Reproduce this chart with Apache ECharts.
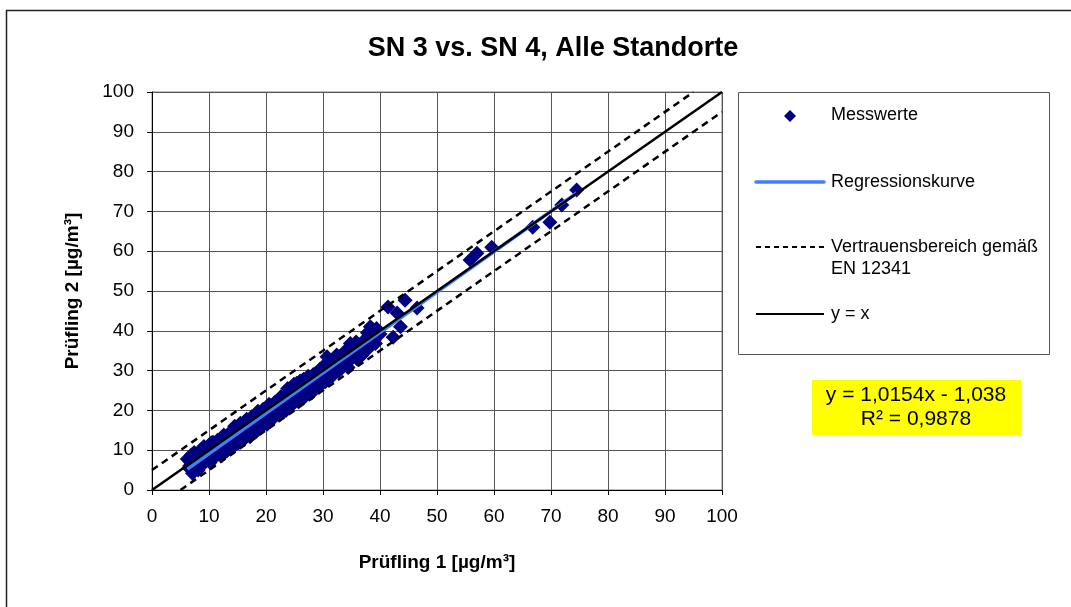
<!DOCTYPE html>
<html>
<head>
<meta charset="utf-8">
<script src="https://cdn.jsdelivr.net/npm/echarts@6/dist/echarts.min.js"></script>
<style>
html,body{margin:0;padding:0;background:#fff;}
#chart{width:1071px;height:607px;}
</style>
</head>
<body>
<div id="chart"></div>
<script>
// ---- data ----
const titleText = 'SN 3 vs. SN 4, Alle Standorte';
const xName = 'Prüfling 1 [µg/m³]';
const yName = 'Prüfling 2 [µg/m³]';
const legendNames = ['Messwerte', 'Regressionskurve', 'Vertrauensbereich gemäß\nEN 12341', 'y = x'];
const equationText = 'y = 1,0154x - 1,038\nR² = 0,9878';

// measured values (Prüfling 1, Prüfling 2)
const pruefling1 = [
  6.2,6.5,6.8,7.1,7.3,7.6,7.9,8.1,8.3,8.6,8.8,9.0,9.3,9.5,9.8,10.0,10.2,10.5,10.7,11.0,
  11.2,11.5,11.7,12.0,12.2,12.5,12.7,13.0,13.2,13.5,13.7,14.0,14.2,14.5,14.7,15.0,15.2,15.5,15.7,16.0,
  16.2,16.5,16.7,17.0,17.2,17.5,17.7,18.0,18.2,18.5,18.7,19.0,19.2,19.5,19.7,20.0,20.2,20.5,20.7,21.0,
  21.2,21.5,21.7,22.0,22.3,22.6,22.9,23.2,23.5,23.8,24.0,24.3,24.6,24.9,25.1,25.4,25.7,26.0,26.2,26.5,
  26.8,27.1,27.4,27.7,28.0,28.3,28.6,28.9,29.2,29.5,29.8,30.1,30.4,30.7,31.0,31.3,31.6,31.9,32.2,32.5,
  32.8,33.2,33.6,34.0,34.4,34.8,35.2,35.6,36.0,36.5,37.0,37.5,38.0,38.3,38.8,39.2,39.6,
  6.9,8.0,9.1,10.3,11.4,12.4,13.4,14.4,15.4,16.4,17.4,18.4,19.4,20.4,21.4,22.4,23.4,24.4,25.4,26.4,
  27.4,28.4,29.4,30.4,31.4,32.4,33.4,34.4,35.4,36.4,37.4,38.4,39.4,40.0,
  6.6,7.4,8.4,9.4,10.4,11.6,12.6,13.6,14.6,15.6,16.6,17.6,18.6,19.6,20.6,21.6,22.8,23.6,24.8,25.6,
  26.6,27.6,28.8,29.6,30.6,31.8,32.6,33.8,34.6,35.8,36.8,37.8,39.0,
  41.4,42.3,43.0,43.6,44.4,46.5,55.8,57.0,59.6,66.8,69.8,71.9,74.5
];
const pruefling2 = [
  7.8,5.5,6.9,4.2,8.5,6.1,9.0,5.0,7.4,10.1,6.3,8.6,7.2,10.5,8.0,11.2,6.9,9.4,12.0,8.3,
  10.6,12.5,9.0,11.3,8.6,13.0,10.4,12.1,9.9,14.2,11.6,13.0,10.8,16.0,12.5,14.1,11.9,16.8,13.6,15.1,
  12.8,17.2,14.5,16.0,13.4,18.4,15.3,17.0,14.6,19.6,16.4,18.2,15.8,20.3,17.4,19.0,16.5,21.5,18.3,20.1,
  17.9,22.0,19.6,21.0,18.8,23.4,20.5,22.1,20.0,25.5,22.6,24.0,21.4,26.6,23.3,25.0,22.2,27.4,24.3,26.0,
  23.4,27.8,25.3,26.5,24.4,29.0,26.7,28.0,25.8,30.4,28.0,29.3,27.2,33.5,29.5,31.0,28.6,33.0,30.6,32.0,
  29.9,33.3,31.4,32.6,30.8,36.8,33.2,34.8,32.9,36.5,34.5,38.0,35.6,41.0,38.4,36.8,39.8,
  8.8,7.9,10.9,9.9,11.0,11.9,12.7,14.5,15.0,15.9,16.8,17.8,18.7,19.9,20.6,21.6,23.6,23.2,26.8,25.4,
  28.6,27.4,28.8,31.6,30.2,33.9,32.3,35.2,36.2,35.0,36.2,37.0,40.6,39.2,
  6.0,9.4,9.0,7.8,11.9,10.0,13.8,11.2,15.1,13.0,17.8,15.2,19.8,16.9,21.4,19.0,22.9,22.6,24.5,23.0,
  27.8,25.0,29.4,26.8,30.0,30.5,31.6,34.8,33.0,37.2,33.8,39.5,37.6,
  46.0,38.4,44.5,41.0,47.7,45.7,57.8,59.5,61.0,66.0,67.3,71.6,75.4
];
// regression line end points (from y = 1,0154x - 1,038)
const regX = [6.2, 74.5];
const regY = [5.26, 74.61];
// y = x line and confidence band EN 12341
const identX = [0, 100];
const identY = [0, 100];
const upperX = [0, 95];
const upperY = [5, 100];
const lowerX = [5, 100];
const lowerY = [0, 95];
const axisTicks = [0, 10, 20, 30, 40, 50, 60, 70, 80, 90, 100];

const zip = (a, b) => a.map((v, i) => [v, b[i]]);
const FONT = '"Liberation Sans", Arial, sans-serif';

const chart = echarts.init(document.getElementById('chart'), null, {renderer: 'canvas'});

const axisCommon = {
  type: 'value', min: axisTicks[0], max: axisTicks[axisTicks.length - 1], interval: 10,
  axisLine: {show: true, onZero: false, lineStyle: {color: '#000', width: 1}},
  axisTick: {show: true, length: 5, lineStyle: {color: '#000'}},
  splitLine: {show: true, lineStyle: {color: '#555', width: 1}},
  axisLabel: {color: '#000', fontFamily: FONT, fontSize: 19},
  nameLocation: 'middle',
  nameTextStyle: {color: '#000', fontFamily: FONT, fontSize: 19, fontWeight: 'bold'}
};

const option = {
  backgroundColor: '#fff',
  animation: false,
  title: {
    text: titleText, left: 548, top: 30, textAlign: 'center',
    textStyle: {fontFamily: FONT, fontSize: 27, fontWeight: 'bold', color: '#000'}
  },
  grid: {left: 152, right: 349, top: 92, bottom: 117, show: true, borderColor: '#808080', borderWidth: 1, backgroundColor: 'transparent'},
  xAxis: Object.assign({}, axisCommon, {
    name: xName, nameGap: 63,
    axisLabel: Object.assign({}, axisCommon.axisLabel, {margin: 17})
  }),
  yAxis: Object.assign({}, axisCommon, {
    name: yName, nameGap: 70,
    axisLabel: Object.assign({}, axisCommon.axisLabel, {margin: 18})
  }),
  series: [
    {
      name: legendNames[0], type: 'scatter', data: zip(pruefling1, pruefling2),
      symbol: 'diamond', symbolSize: 15,
      itemStyle: {color: '#000080', opacity: 1}, z: 2
    },
    {
      name: legendNames[1], type: 'line', data: zip(regX, regY),
      showSymbol: false, lineStyle: {color: '#3f7fff', width: 3.5}, z: 3
    },
    {
      name: legendNames[3], type: 'line', data: zip(identX, identY),
      showSymbol: false, lineStyle: {color: '#000', width: 2.5}, z: 4
    },
    {
      name: legendNames[2], type: 'line', data: zip(upperX, upperY),
      showSymbol: false, lineStyle: {color: '#000', width: 2.5, type: [7, 5]}, z: 5
    },
    {
      name: legendNames[2] + ' ', type: 'line', data: zip(lowerX, lowerY),
      showSymbol: false, lineStyle: {color: '#000', width: 2.5, type: [7, 5]}, z: 5
    }
  ],
  graphic: [
    {type: 'rect', shape: {x: 6.5, y: 10.5, width: 1200, height: 800}, style: {fill: 'none', stroke: '#222', lineWidth: 1.5}, silent: true, z: 0},
    {type: 'rect', shape: {x: 738.5, y: 92.5, width: 311, height: 262}, style: {fill: '#fff', stroke: '#555', lineWidth: 1}},
    {type: 'polygon', shape: {points: [[790, 110], [796, 116], [790, 122], [784, 116]]}, style: {fill: '#000080'}},
    {type: 'text', x: 831, y: 115, style: {text: legendNames[0], font: '18px ' + FONT, fill: '#000', verticalAlign: 'middle'}},
    {type: 'line', shape: {x1: 756, y1: 182, x2: 824, y2: 182}, style: {stroke: '#3f7fff', lineWidth: 3.5, lineCap: 'round'}},
    {type: 'text', x: 831, y: 182, style: {text: legendNames[1], font: '18px ' + FONT, fill: '#000', verticalAlign: 'middle'}},
    {type: 'line', shape: {x1: 756, y1: 247, x2: 824, y2: 247}, style: {stroke: '#000', lineWidth: 2, lineDash: [5, 4]}},
    {type: 'text', x: 831, y: 236, style: {text: legendNames[2], font: '18px ' + FONT, fill: '#000', lineHeight: 22, verticalAlign: 'top'}},
    {type: 'line', shape: {x1: 756, y1: 314, x2: 824, y2: 314}, style: {stroke: '#000', lineWidth: 2}},
    {type: 'text', x: 831, y: 314, style: {text: legendNames[3], font: '18px ' + FONT, fill: '#000', verticalAlign: 'middle'}},
    {type: 'rect', shape: {x: 812, y: 380, width: 209, height: 55}, style: {fill: '#ffff00'}},
    {type: 'text', x: 916, y: 407, style: {text: equationText, font: '21px ' + FONT, fill: '#000', align: 'center', verticalAlign: 'middle', lineHeight: 24}}
  ]
};
chart.setOption(option);
</script>
</body>
</html>
